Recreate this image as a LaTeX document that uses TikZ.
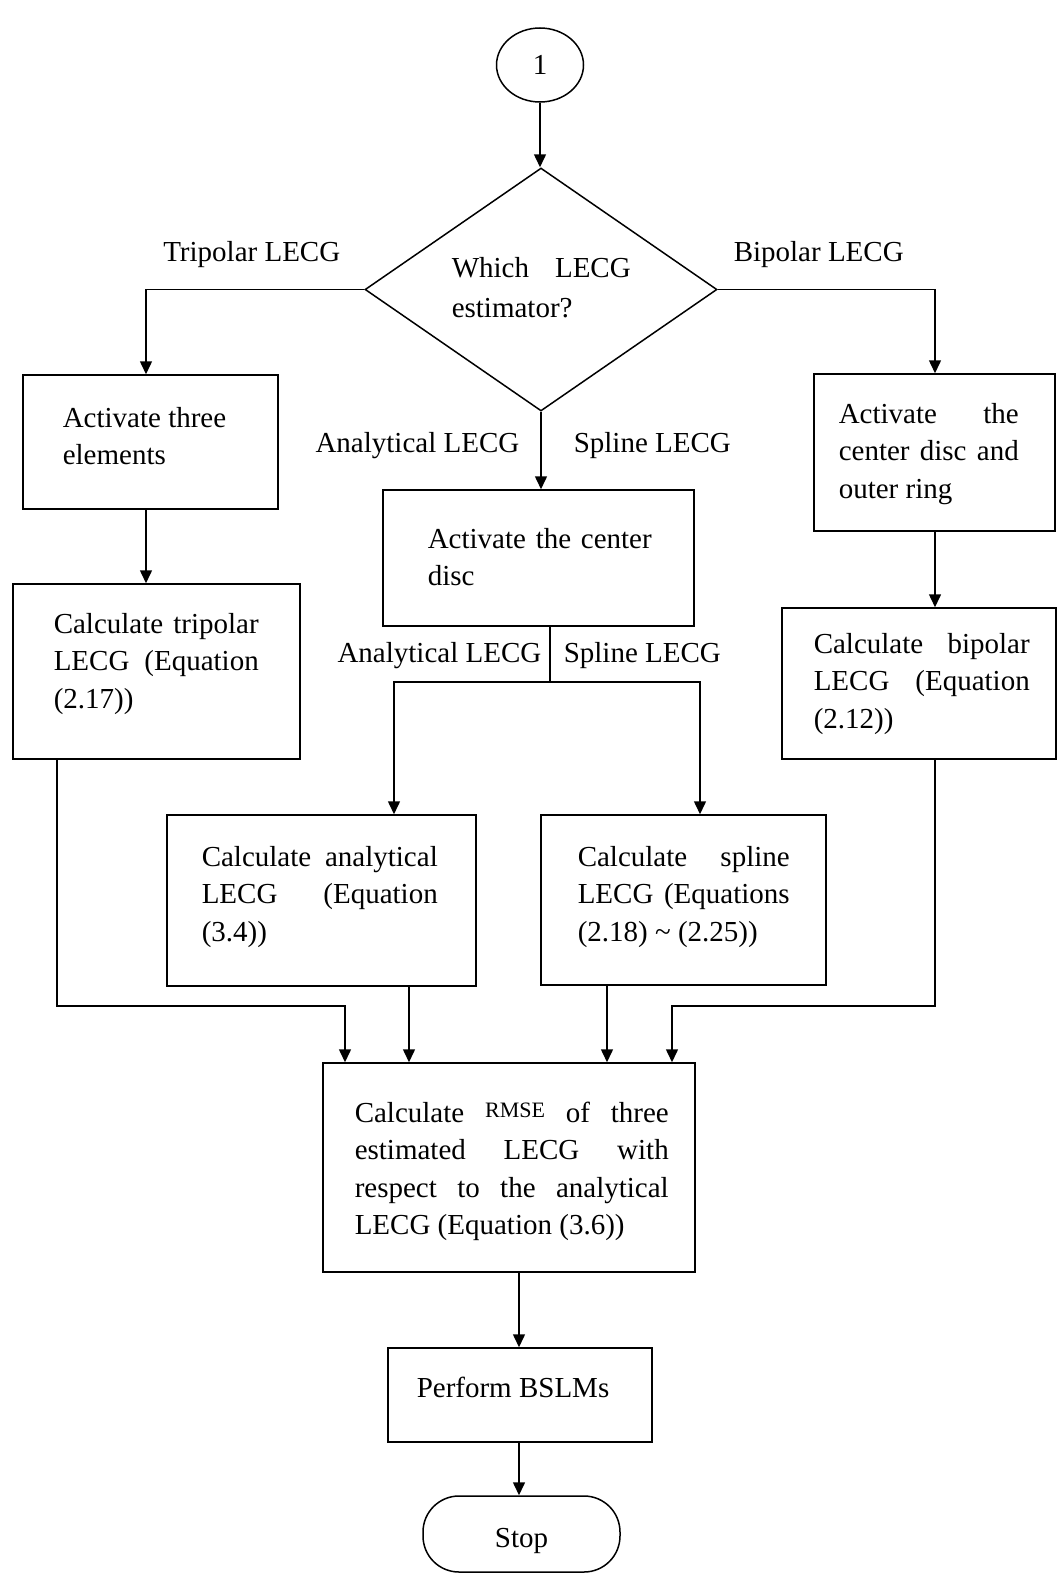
\documentclass[tikz,border=0pt]{standalone}
\usepackage{fontspec}
\setmainfont{Liberation Serif}
\usetikzlibrary{shapes.geometric,arrows.meta,calc}
\begin{document}
\begin{tikzpicture}[x=1pt,y=-1pt,line width=1.5pt,
  box/.style={draw,rectangle,inner sep=0pt},
  txt/.style={inner sep=0pt,anchor=base west,font=\fontsize{29}{37.5}\selectfont},
  lbl/.style={inner sep=0pt,font=\fontsize{29}{37.5}\selectfont},
  arr/.style={-{Triangle[length=13pt,width=12pt]}}]
\useasboundingbox (0,0) rectangle (1059,1574);
% shapes
\node[draw,ellipse,minimum width=87pt,minimum height=74pt,inner sep=0pt,font=\fontsize{29}{37.5}\selectfont] (c1) at (540,65) {1};
\node[draw,diamond,minimum width=352pt,minimum height=243pt,inner sep=0pt] (dia) at (541,289.5) {};
\node[box,minimum width=255pt,minimum height=134pt] (b1) at (150.5,442) {};
\node[box,minimum width=287pt,minimum height=175pt] (b2) at (156.5,671.5) {};
\node[box,minimum width=241pt,minimum height=157pt] (b3) at (934.5,452.5) {};
\node[box,minimum width=274pt,minimum height=151pt] (b4) at (919,683.5) {};
\node[box,minimum width=311pt,minimum height=136pt] (b5) at (538.5,558) {};
\node[box,minimum width=309pt,minimum height=171pt] (b6) at (321.5,900.5) {};
\node[box,minimum width=285pt,minimum height=170pt] (b7) at (683.5,900) {};
\node[box,minimum width=372pt,minimum height=209pt] (b8) at (509,1167.5) {};
\node[box,minimum width=264pt,minimum height=94pt] (b9) at (520,1395) {};
\node[draw,rectangle,rounded corners=36pt,minimum width=197pt,minimum height=76pt,inner sep=0pt,text depth=0pt,text height=26pt,font=\fontsize{29}{37.5}\selectfont] (stop) at (521.5,1534) {Stop};
% texts
\node[txt] (tdia) at (451,277) {\parbox[t]{179pt}{\baselineskip=40pt\makebox[179pt][s]{Which LECG}\\estimator?}};
\node[txt] (t1) at (62,427) {\parbox[t]{210pt}{Activate three\\elements}};
\node[txt] (t2) at (53,633) {\parbox[t]{205pt}{\makebox[205pt][s]{Calculate tripolar}\\\makebox[205pt][s]{LECG (Equation}\\(2.17))}};
\node[txt] (t3) at (838,423) {\parbox[t]{180pt}{\makebox[180pt][s]{Activate the}\\\makebox[180pt][s]{center disc and}\\outer ring}};
\node[txt] (t4) at (813,653) {\parbox[t]{216pt}{\makebox[216pt][s]{Calculate bipolar}\\\makebox[216pt][s]{LECG (Equation}\\(2.12))}};
\node[txt] (t5) at (427,548) {\parbox[t]{224pt}{\makebox[224pt][s]{Activate the center}\\disc}};
\node[txt] (t6) at (201,866) {\parbox[t]{236pt}{\makebox[236pt][s]{Calculate analytical}\\\makebox[236pt][s]{LECG (Equation}\\(3.4))}};
\node[txt] (t7) at (577,866) {\parbox[t]{212pt}{\makebox[212pt][s]{Calculate spline}\\\makebox[212pt][s]{LECG (Equations}\\(2.18) \textasciitilde{} (2.25))}};
\node[txt] (t8) at (354,1122) {\parbox[t]{314pt}{\makebox[314pt][s]{Calculate \raisebox{5pt}{\fontsize{22}{22}\selectfont RMSE} of three}\\\makebox[314pt][s]{estimated LECG with}\\\makebox[314pt][s]{respect to the analytical}\\LECG (Equation (3.6))}};
\node[txt] (t9) at (416,1397) {Perform BSLMs};
% branch labels
\node[lbl,anchor=base east] (l1) at (341,261) {Tripolar LECG};
\node[lbl,anchor=base west] (l2) at (733,261) {Bipolar LECG};
\node[lbl,anchor=base east] (l3) at (520,452) {Analytical LECG};
\node[lbl,anchor=base west] (l4) at (573,452) {Spline LECG};
\node[lbl,anchor=base east] (l5) at (542,662) {Analytical LECG};
\node[lbl,anchor=base west] (l6) at (563,662) {Spline LECG};
% guide coordinates
\coordinate (gx1) at (146,0);
\coordinate (gx2) at (935,0);
\coordinate (gx3) at (57,0);
\coordinate (gx5) at (394,0);
\coordinate (gx6) at (700,0);
\coordinate (gx8) at (409,0);
\coordinate (gx9) at (607,0);
\coordinate (gx11) at (519,0);
\coordinate (split) at (550,682);
\coordinate (mergeL) at (345,1006);
\coordinate (mergeR) at (672,1006);
% connectors
\draw[arr] (c1.south) -- (c1.south |- dia.north);
\draw[arr] (dia.west) -| (gx1 |- b1.north);
\draw[arr] (gx1 |- b1.south) -- (gx1 |- b2.north);
\draw[arr] (dia.east) -| (gx2 |- b3.north);
\draw[arr] (gx2 |- b3.south) -- (gx2 |- b4.north);
\draw[arr] (dia.south) -- (dia.south |- b5.north);
\draw (split |- b5.south) -- (split);
\draw[arr] (split) -| (gx5 |- b6.north);
\draw[arr] (split) -| (gx6 |- b7.north);
\draw[arr] (gx3 |- b2.south) |- (mergeL) -- (mergeL |- b8.north);
\draw[arr] (gx8 |- b6.south) -- (gx8 |- b8.north);
\draw[arr] (gx9 |- b7.south) -- (gx9 |- b8.north);
\draw[arr] (gx2 |- b4.south) |- (mergeR) -- (mergeR |- b8.north);
\draw[arr] (gx11 |- b8.south) -- (gx11 |- b9.north);
\draw[arr] (gx11 |- b9.south) -- (gx11 |- stop.north);
\end{tikzpicture}
\end{document}
